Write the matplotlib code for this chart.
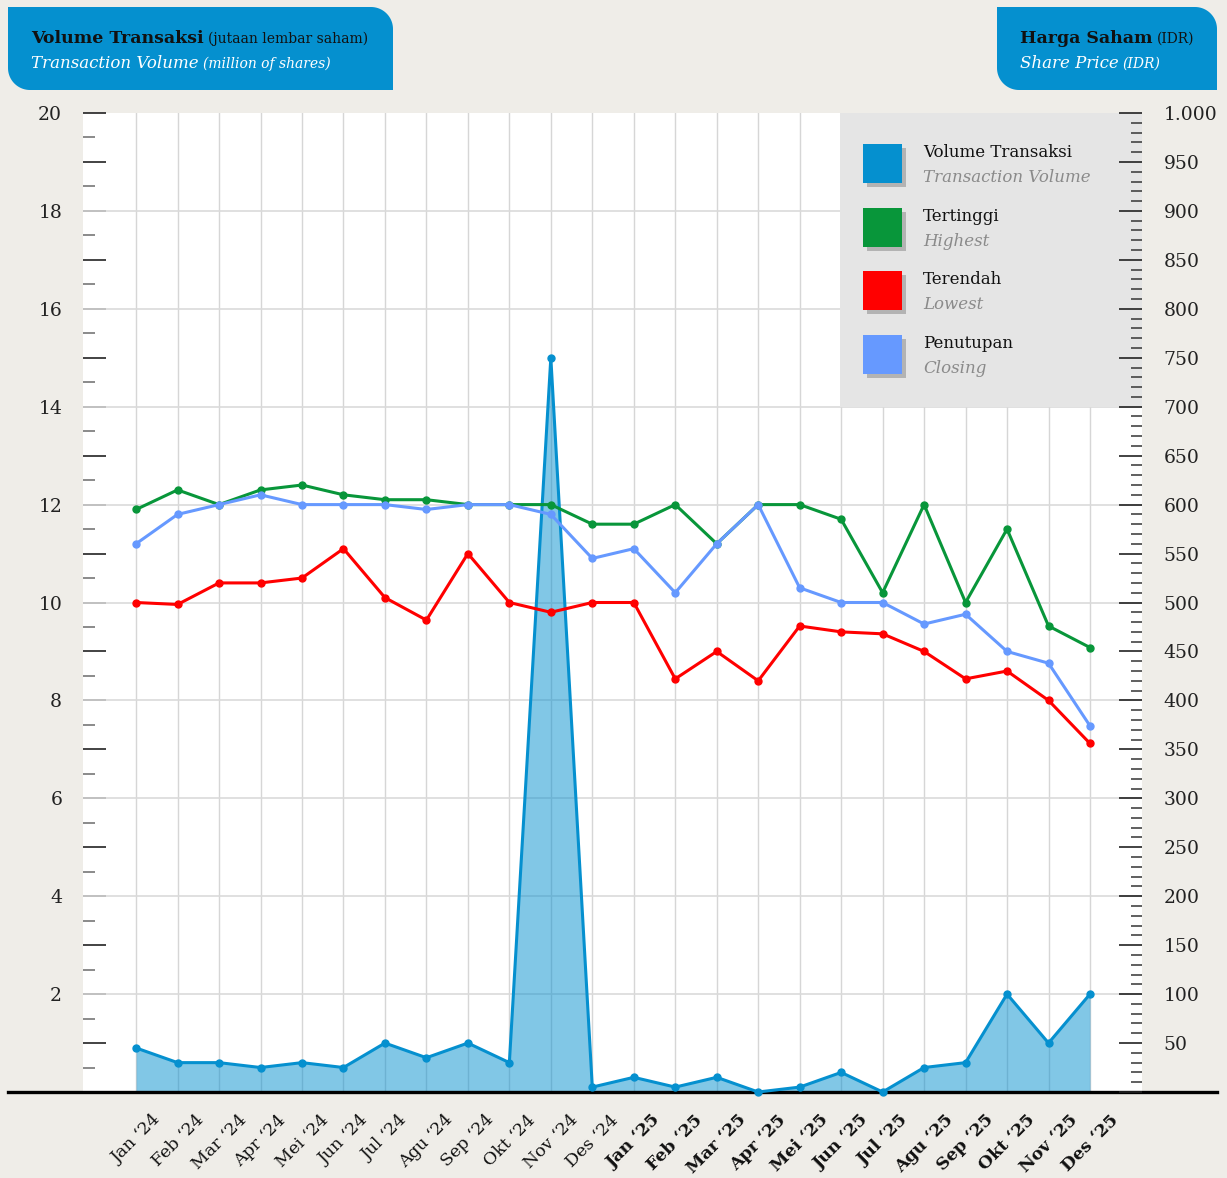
import numpy as np
import matplotlib
matplotlib.use("Agg")
import matplotlib.pyplot as plt
from matplotlib.ticker import MultipleLocator, FuncFormatter
from matplotlib.patches import Polygon, Rectangle
from matplotlib.lines import Line2D

# ---------------- data ----------------
months = ["Jan ‘24", "Feb ‘24", "Mar ‘24", "Apr ‘24", "Mei ‘24", "Jun ‘24",
          "Jul ‘24", "Agu ‘24", "Sep ‘24", "Okt ‘24", "Nov ‘24", "Des ‘24",
          "Jan ‘25", "Feb ‘25", "Mar ‘25", "Apr ‘25", "Mei ‘25", "Jun ‘25",
          "Jul ‘25", "Agu ‘25", "Sep ‘25", "Okt ‘25", "Nov ‘25", "Des ‘25"]
volume = [0.9, 0.6, 0.6, 0.5, 0.6, 0.5, 1.0, 0.7, 1.0, 0.6, 15.0, 0.1,
          0.3, 0.1, 0.3, 0.0, 0.1, 0.4, 0.0, 0.5, 0.6, 2.0, 1.0, 2.0]
highest = [595, 615, 600, 615, 620, 610, 605, 605, 600, 600, 600, 580,
           580, 600, 560, 600, 600, 585, 510, 600, 500, 575, 476, 454]
lowest = [500, 498, 520, 520, 525, 555, 505, 482, 550, 500, 490, 500,
          500, 422, 450, 420, 476, 470, 468, 450, 422, 430, 400, 356]
closing = [560, 590, 600, 610, 600, 600, 600, 595, 600, 600, 590, 545,
           555, 510, 560, 600, 515, 500, 500, 478, 488, 450, 438, 374]

legend_id = ["Volume Transaksi", "Tertinggi", "Terendah", "Penutupan"]
legend_en = ["Transaction Volume", "Highest", "Lowest", "Closing"]

# ---------------- style ----------------
BG = "#efede8"
BLUE = "#0590cf"
GREEN = "#08963a"
RED = "#ff0000"
LBLUE = "#6699ff"
colors = [BLUE, GREEN, RED, LBLUE]
plt.rcParams["font.family"] = ["DejaVu Serif"]

W, H = 1227, 1178
fig = plt.figure(figsize=(W / 100, H / 100), dpi=100, facecolor=BG)


def fx(px):
    return px / W


def fy(py):
    return 1 - py / H


ax = fig.add_axes([fx(83), fy(1092), fx(1142) - fx(83), fy(113) - fy(1092)])
ax.set_facecolor("white")
x = np.arange(len(months))
ax.set_xlim(-1.28, len(months) - 1 + 1.254)
ax.set_ylim(0, 20)
for s in ax.spines.values():
    s.set_visible(False)

ax.set_axisbelow(True)
ax.grid(axis="x", color="#d6d6d6", lw=1.0)
for v in np.arange(2, 20, 2):
    ax.axhline(v, color="#dadada", lw=1.2, zorder=0.6)

# legend background box (inside axes so right ticks draw over it)
ax.add_patch(Rectangle((0.7148, 0.6997), 1 - 0.7148, 1 - 0.6997, transform=ax.transAxes,
                       facecolor="#e5e5e5", edgecolor="none", zorder=1.5))

# volume area
ax.fill_between(x, volume, 0, color=BLUE, alpha=0.5, lw=0, zorder=2)
ax.plot(x, volume, color=BLUE, lw=2.2, marker="o", ms=5, zorder=3, clip_on=False)

# thick bottom base line across the figure
ax.add_line(Line2D([fx(8), fx(1217)], [fy(1091.5), fy(1091.5)], transform=fig.transFigure,
                   color="black", lw=2.4, clip_on=False, zorder=2.6))

# left axis ticks
ax.yaxis.set_major_locator(MultipleLocator(1))
ax.yaxis.set_minor_locator(MultipleLocator(0.5))
ax.yaxis.set_major_formatter(FuncFormatter(
    lambda v, p: f"{int(round(v))}" if (int(round(v)) % 2 == 0 and v > 0.5) else ""))
ax.tick_params(axis="y", which="major", direction="in", length=16.5, width=1.2,
               color="#222222", pad=15, labelsize=13.5, labelcolor="#222222")
ax.tick_params(axis="y", which="minor", direction="in", length=8.5, width=1.2, color="#777777")

# x ticks
ax.set_xticks(x)
ax.set_xticklabels(months)
ax.tick_params(axis="x", length=0, pad=14, labelsize=12.5, labelcolor="#111111", labelrotation=45)
for i, lab in enumerate(ax.get_xticklabels()):
    lab.set_ha("center")
    if "25" in months[i]:
        lab.set_fontweight("bold")

# right axis (price)
ax2 = ax.twinx()
ax2.set_ylim(0, 1000)
for s in ax2.spines.values():
    s.set_visible(False)
ax2.yaxis.set_major_locator(MultipleLocator(50))
ax2.yaxis.set_minor_locator(MultipleLocator(10))


def pfmt(v, p):
    v = int(round(v))
    if v <= 0:
        return ""
    if v >= 1000:
        return f"{v // 1000}.{v % 1000:03d}"
    return str(v)


ax2.yaxis.set_major_formatter(FuncFormatter(pfmt))
ax2.tick_params(axis="y", which="major", direction="in", length=16.5, width=1.2,
                color="#222222", pad=15.5, labelsize=13.5, labelcolor="#222222")
ax2.tick_params(axis="y", which="minor", direction="in", length=8, width=1.2, color="#444444")

for series, c in zip([highest, lowest, closing], [GREEN, RED, LBLUE]):
    ax2.plot(x, series, color=c, lw=2.2, marker="o", ms=5, zorder=3)

# ---------------- legend ----------------
sq_tops = [144, 207.7, 271.3, 335]
for top, c, t1, t2 in zip(sq_tops, colors, legend_id, legend_en):
    fig.patches.append(Rectangle((fx(867), fy(top + 43)), fx(39), fy(top) - fy(top + 39),
                                 transform=fig.transFigure, facecolor="#b3b3b3",
                                 edgecolor="none", zorder=5))
    fig.patches.append(Rectangle((fx(863), fy(top + 39)), fx(39), fy(top) - fy(top + 39),
                                 transform=fig.transFigure, facecolor=c,
                                 edgecolor="none", zorder=6))
    fig.text(fx(923), fy(top + 13), t1, fontsize=12, color="#111111", va="baseline", zorder=7)
    fig.text(fx(923), fy(top + 38), t2, fontsize=12, color="#8a8a8a", style="italic",
             va="baseline", zorder=7)


# ---------------- header boxes ----------------
def header_box(x0, y0, x1, y1, r):
    pts = [(x0, y0)]
    for t in np.linspace(-90, 0, 20):
        a = np.radians(t)
        pts.append((x1 - r + r * np.cos(a), y0 + r + r * np.sin(a)))
    pts.append((x1, y1))
    for t in np.linspace(90, 180, 20):
        a = np.radians(t)
        pts.append((x0 + r + r * np.cos(a), y1 - r + r * np.sin(a)))
    pts = [(fx(px), fy(py)) for px, py in pts]
    fig.patches.append(Polygon(pts, closed=True, transform=fig.transFigure,
                               facecolor=BLUE, edgecolor="none", zorder=1))


header_box(8, 7, 393, 90, 22)
header_box(997, 7, 1217, 90, 22)

renderer = fig.canvas.get_renderer()


def inline(xpx, ypx, parts):
    xcur = fx(xpx)
    for txt, kw in parts:
        t = fig.text(xcur, fy(ypx), txt, va="baseline", **kw)
        bb = t.get_window_extent(renderer)
        xcur = bb.x1 / W + fx(4)


inline(31, 43, [("Volume Transaksi", dict(fontsize=12.5, fontweight="bold", color="#111111")),
                ("(jutaan lembar saham)", dict(fontsize=10, color="#111111"))])
inline(31, 68, [("Transaction Volume", dict(fontsize=12, style="italic", color="white")),
                ("(million of shares)", dict(fontsize=10, style="italic", color="white"))])
inline(1020, 43, [("Harga Saham", dict(fontsize=12.5, fontweight="bold", color="#111111")),
                  ("(IDR)", dict(fontsize=10, color="#111111"))])
inline(1020, 68, [("Share Price", dict(fontsize=12, style="italic", color="white")),
                  ("(IDR)", dict(fontsize=10, style="italic", color="white"))])

fig.savefig("out.png", dpi=100, facecolor=BG)
